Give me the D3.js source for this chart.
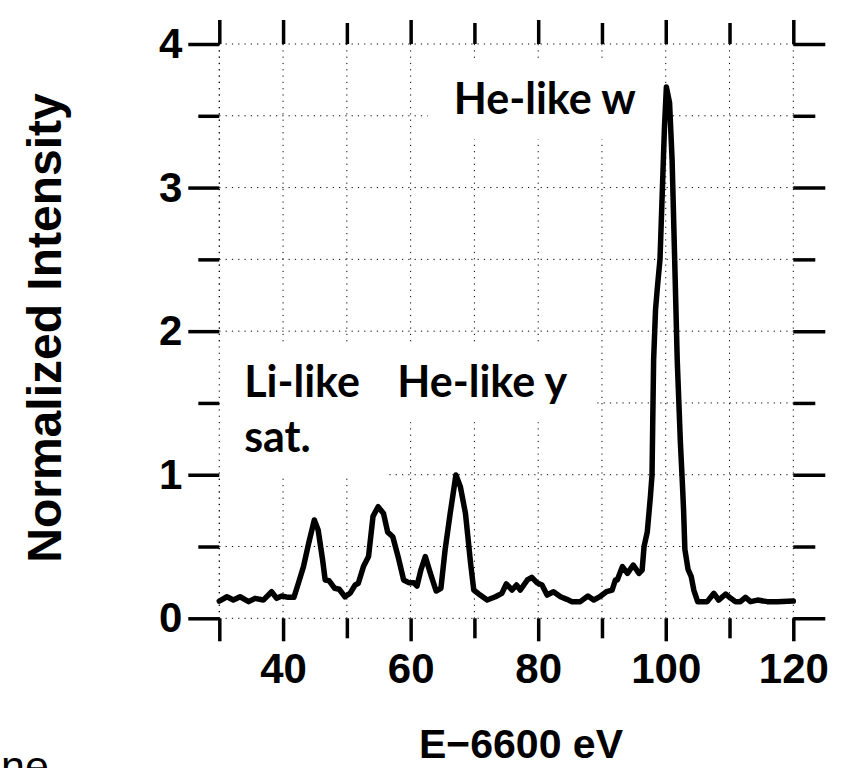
<!DOCTYPE html>
<html>
<head>
<meta charset="utf-8">
<script src="https://cdn.jsdelivr.net/npm/d3@7"></script>
<style>
  html, body { margin: 0; padding: 0; background: #fff; overflow: hidden; }
  svg { display: block; }
</style>
</head>
<body>
<svg id="chart" width="851" height="768"></svg>
<script>
'use strict'

// spectrum: energy (E - 6600 eV) and normalized intensity
const energy = [
  30.0, 31.2, 32.2, 33.25, 34.6, 35.6, 36.9, 38.2, 39.0, 39.8,
  40.8, 41.7, 42.4, 43.2, 44.0, 44.9, 45.5, 46.2, 46.6, 47.2,
  48.1, 48.8, 49.7, 50.5, 51.3, 51.8, 52.6, 53.4, 54.1, 54.9,
  55.75, 56.4, 57.2, 58.1, 58.9, 59.7, 60.5, 61.0, 61.6, 62.3,
  63.1, 64.0, 64.75, 65.4, 66.2, 67.1, 67.8, 68.6, 69.4, 69.9,
  70.9, 72.0, 73.3, 74.3, 75.0, 75.9, 76.6, 77.2, 78.3, 79.0,
  79.8, 80.6, 81.4, 82.4, 83.5, 84.5, 85.3, 86.6, 87.8, 88.7,
  89.8, 90.7, 91.6, 92.1, 92.4, 93.2, 94.0, 94.9, 95.8, 96.3,
  96.6, 97.1, 97.6, 97.85, 97.95, 98.1, 98.4, 98.7, 99.1, 99.45,
  99.8, 100.1, 100.6, 101.0, 101.4, 101.8, 102.3, 102.6, 102.8, 103.0,
  103.5, 104.0, 104.4, 105.0, 106.5, 107.55, 108.3, 109.4, 110.2, 110.95,
  111.7, 112.5, 113.3, 114.4, 115.9, 117.5, 120.0
]
const intensity = [
  0.12, 0.15, 0.127, 0.15, 0.116, 0.139, 0.127, 0.185, 0.139, 0.155,
  0.146, 0.146, 0.244, 0.36, 0.52, 0.685, 0.615, 0.406, 0.267, 0.262,
  0.209, 0.202, 0.15, 0.174, 0.232, 0.244, 0.36, 0.43, 0.71, 0.777,
  0.73, 0.60, 0.568, 0.418, 0.267, 0.248, 0.248, 0.225, 0.336, 0.43,
  0.313, 0.19, 0.209, 0.475, 0.73, 0.998, 0.917, 0.73, 0.383, 0.197,
  0.162, 0.127, 0.15, 0.174, 0.239, 0.197, 0.232, 0.197, 0.267, 0.285,
  0.248, 0.232, 0.162, 0.185, 0.15, 0.132, 0.116, 0.116, 0.155, 0.127,
  0.155, 0.185, 0.197, 0.267, 0.267, 0.36, 0.313, 0.371, 0.313, 0.336,
  0.5, 0.6, 0.85, 1.0, 1.33, 1.80, 2.15, 2.31, 2.50, 2.96,
  3.42, 3.70, 3.59, 3.19, 2.50, 1.80, 1.22, 0.95, 0.75, 0.48,
  0.34, 0.29, 0.197, 0.116, 0.116, 0.174, 0.127, 0.169, 0.139, 0.116,
  0.116, 0.146, 0.116, 0.127, 0.116, 0.116, 0.12
]

const xTicks = [30, 40, 50, 60, 70, 80, 90, 100, 110, 120]
const xLabels = [40, 60, 80, 100, 120]
const yTicks = [0, 0.5, 1, 1.5, 2, 2.5, 3, 3.5, 4]
const yLabels = [0, 1, 2, 3, 4]

const annotations = [
  { lines: ['Li-like', 'sat.'], e: 33.9, v: 1.54, anchor: 'start' },
  { lines: ['He-like y'], e: 57.9, v: 1.54, anchor: 'start' },
  { lines: ['He-like w'], e: 95.3, v: 3.51, anchor: 'end' }
]

const x = d3.scaleLinear().domain([30, 120]).range([219.3, 793.3])
const y = d3.scaleLinear().domain([0, 4]).range([618.3, 44])

const svg = d3.select('#chart')
const tickFont = '"Liberation Sans", Arial, Helvetica, sans-serif'

// dotted grid
const grid = svg.append('g')
  .attr('stroke', '#000')
  .attr('stroke-width', 1)
  .attr('stroke-dasharray', '1.2 5.1')

grid.selectAll('line.v')
  .data(xTicks)
  .enter()
  .append('line')
  .attr('x1', d => x(d)).attr('x2', d => x(d))
  .attr('y1', y(4)).attr('y2', y(0))

grid.selectAll('line.h')
  .data(yTicks)
  .enter()
  .append('line')
  .attr('x1', x(30)).attr('x2', x(120))
  .attr('y1', d => y(d)).attr('y2', d => y(d))

// annotation labels sit on white boxes that hide the grid
annotations.forEach(a => {
  let g = svg.append('g')
  let box = g.append('rect').attr('fill', '#fff')
  let t = g.append('text')
    .attr('x', x(a.e))
    .attr('y', y(a.v))
    .attr('text-anchor', a.anchor)
    .attr('font-family', 'Lato, "Open Sans", sans-serif')
    .attr('font-weight', 'bold')
    .attr('font-size', 43)
  t.selectAll('tspan')
    .data(a.lines)
    .enter()
    .append('tspan')
    .attr('x', x(a.e))
    .attr('dy', (d, i) => i === 0 ? 0 : 55)
    .text(d => d)
  let bb = t.node().getBBox()
  box.attr('x', bb.x - 26)
    .attr('y', bb.y - 12)
    .attr('width', bb.width + 52)
    .attr('height', bb.height + 28)
})

// the grid's outer frame stays visible over the boxes
svg.append('line')
  .attr('stroke', '#000').attr('stroke-width', 1).attr('stroke-dasharray', '1.2 5.1')
  .attr('x1', x(30)).attr('x2', x(30)).attr('y1', y(4)).attr('y2', y(0))

const styleAxis = function(g) {
  g.select('.domain').remove()
  g.selectAll('.tick line').attr('stroke', '#000').attr('stroke-width', 3.5)
  g.selectAll('.tick text')
    .attr('fill', '#000')
    .attr('font-family', tickFont)
    .attr('font-weight', 'bold')
    .attr('font-size', 42)
}

// bottom
svg.append('g')
  .attr('transform', 'translate(0,' + y(0) + ')')
  .call(d3.axisBottom(x).tickValues(xTicks).tickSize(23).tickPadding(12)
    .tickFormat(d => xLabels.includes(d) ? d : ''))
  .call(styleAxis)
  .call(g => g.selectAll('.tick line').attr('y2', d => (xLabels.includes(d) || d === 30) ? 23 : 20))

// top
svg.append('g')
  .attr('transform', 'translate(0,' + y(4) + ')')
  .call(d3.axisTop(x).tickValues(xTicks).tickSize(24).tickFormat(''))
  .call(styleAxis)
  .call(g => g.selectAll('.tick line').attr('y2', d => (xLabels.includes(d) || d === 30) ? -24 : -21))

// left
svg.append('g')
  .attr('transform', 'translate(' + x(30) + ',0)')
  .call(d3.axisLeft(y).tickValues(yTicks).tickSize(31).tickPadding(6)
    .tickFormat(d => yLabels.includes(d) ? d : ''))
  .call(styleAxis)
  .call(g => g.selectAll('.tick line').attr('x2', d => yLabels.includes(d) ? -31 : -21))

// right
svg.append('g')
  .attr('transform', 'translate(' + x(120) + ',0)')
  .call(d3.axisRight(y).tickValues(yTicks).tickSize(32).tickFormat(''))
  .call(styleAxis)
  .call(g => g.selectAll('.tick line').attr('x2', d => yLabels.includes(d) ? 32 : 22))

// spectrum
const line = d3.line()
  .x((d, i) => x(energy[i]))
  .y((d, i) => y(intensity[i]))

svg.append('path')
  .datum(energy)
  .attr('d', line)
  .attr('fill', 'none')
  .attr('stroke', '#000')
  .attr('stroke-width', 5.5)
  .attr('stroke-linejoin', 'round')
  .attr('stroke-linecap', 'round')

// axis titles
svg.append('text')
  .attr('transform', 'translate(61,328) rotate(-90)')
  .attr('text-anchor', 'middle')
  .attr('font-family', tickFont)
  .attr('font-weight', 'bold')
  .attr('font-size', 48)
  .text('Normalized Intensity')

svg.append('text')
  .attr('x', 521)
  .attr('y', 758)
  .attr('text-anchor', 'middle')
  .attr('font-family', tickFont)
  .attr('font-weight', 'bold')
  .attr('font-size', 41)
  .text('E\u22126600 eV')

svg.append('text')
  .attr('x', 1)
  .attr('y', 781)
  .attr('font-family', tickFont)
  .attr('font-size', 43)
  .text('ne')
</script>
</body>
</html>
